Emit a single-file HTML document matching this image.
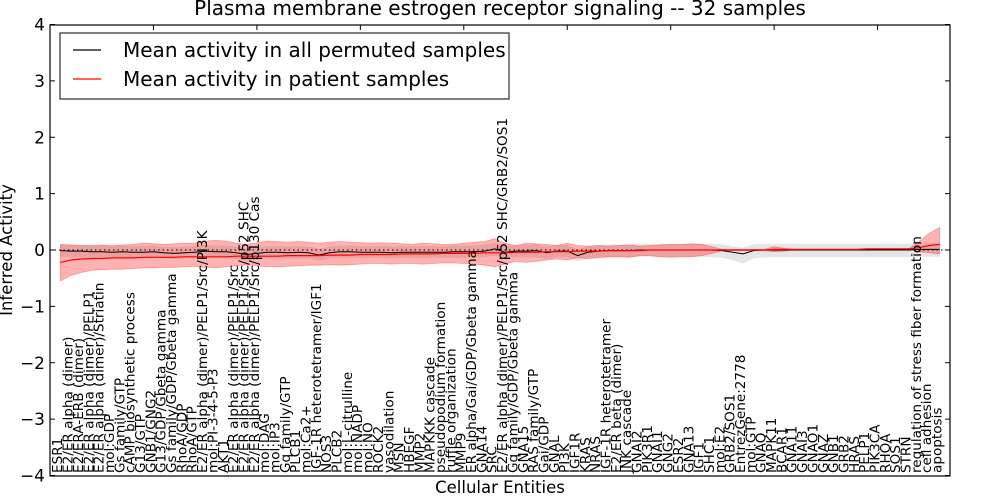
<!DOCTYPE html>
<html><head><meta charset="utf-8"><style>
body{margin:0;background:#fff;}
svg{display:block;font-family:"DejaVu Sans","Liberation Sans",sans-serif;}
</style></head><body>
<svg id="chart" width="1000" height="500" xmlns="http://www.w3.org/2000/svg">
<text x="500" y="15" font-size="20" text-anchor="middle">Plasma membrane estrogen receptor signaling -- 32 samples</text>
<text x="500" y="493" font-size="16.5" text-anchor="middle">Cellular Entities</text>
<text transform="translate(12,250) rotate(-90)" font-size="16.5" text-anchor="middle">Inferred Activity</text>
<g id="plot"></g>
</svg>
<script>
const labels=["ESR1","E2/ER alpha (dimer)","E2/ERA-ERB (dimer)","E2/ER alpha (dimer)/PELP1","E2/ER alpha (dimer)/Striatin","mol:GDP","Gs family/GTP","cAMP biosynthetic process","G13/GTP","GNB1/GNG2","G13/GDP/Gbeta gamma","Gs family/GDP/Gbeta gamma","RhoA/GDP","RhoA/GTP","E2/ER alpha (dimer)/PELP1/Src/PI3K","mol:PI-3-4-5-P3","AKT1","E2/ER alpha (dimer)/PELP1/Src","E2/ER alpha (dimer)/PELP1/Src/p52 SHC","E2/ER alpha (dimer)/PELP1/Src/p130 Cas","mol:DAG","mol:IP3","Gq family/GTP","PLCB1","mol:Ca2+","IGF-1R heterotetramer/IGF1","NOS3","PLCB2","mol:L-citrulline","mol:NADP","mol:NO","ROCK2","vasodilation","MSN","HBEGF","MMP2","MAPKKK cascade","pseudopodium formation","ruffle organization","MMP9","ER alpha/Gai/GDP/Gbeta gamma","GNA14","SRC","E2/ER alpha (dimer)/PELP1/Src/p52 SHC/GRB2/SOS1","Gq family/GDP/Gbeta gamma","GNA15","RAS family/GTP","Gai/GDP","GNAL","PI3K","IGF1R","KRAS","NRAS","IGF-1R heterotetramer","E2/ER beta (dimer)","JNK cascade","GNAI2","PIK3R1","GNAI1","GNG2","ESR2","GNA13","IGF1","SHC1","mol:E2","GRB2/SOS1","EntrezGene:2778","mol:GTP","GNAQ","MAPK11","BCAR1","GNA11","GNAI3","GNAO1","GNAZ","GNB1","GRB2","HRAS","PELP1","PIK3CA","RHOA","SOS1","STRN","regulation of stress fiber formation","cell adhesion","apoptosis"];
const yTicks=[-4,-3,-2,-1,0,1,2,3,4];
const xTopTicks=[10,20,30,40,50,60,70,80];
const blackMean=[-0.01,-0.02,-0.02,-0.03,-0.03,-0.04,-0.03,-0.04,-0.04,-0.03,-0.05,-0.06,-0.05,-0.04,-0.02,-0.03,-0.03,-0.05,-0.08,-0.06,-0.04,-0.04,-0.05,-0.04,-0.05,-0.09,-0.05,-0.03,-0.03,-0.04,-0.04,-0.04,-0.05,-0.04,-0.04,-0.04,-0.04,-0.04,-0.03,-0.03,-0.03,-0.02,0.02,-0.04,-0.02,-0.02,-0.01,-0.05,-0.02,-0.02,-0.1,-0.04,-0.02,-0.01,-0.01,-0.01,0,0,0,0,0,0,0,0,-0.01,-0.04,-0.07,-0.01,0,0,0,0,0,0,0,0,0,0,0,0,0,0,0,0.01,0.01,0.01];
const blackLow=[-0.12,-0.13,-0.13,-0.13,-0.14,-0.14,-0.14,-0.14,-0.15,-0.14,-0.15,-0.16,-0.15,-0.14,-0.13,-0.14,-0.14,-0.16,-0.19,-0.17,-0.15,-0.15,-0.15,-0.15,-0.15,-0.19,-0.15,-0.14,-0.14,-0.14,-0.14,-0.14,-0.15,-0.14,-0.14,-0.14,-0.14,-0.14,-0.14,-0.14,-0.14,-0.13,-0.1,-0.15,-0.13,-0.13,-0.13,-0.16,-0.13,-0.13,-0.2,-0.15,-0.13,-0.13,-0.13,-0.13,-0.12,-0.12,-0.12,-0.12,-0.12,-0.12,-0.12,-0.13,-0.14,-0.18,-0.24,-0.15,-0.13,-0.13,-0.13,-0.13,-0.13,-0.13,-0.13,-0.13,-0.13,-0.13,-0.13,-0.13,-0.13,-0.13,-0.13,-0.12,-0.12,-0.12];
const blackHigh=[0.1,0.09,0.09,0.08,0.08,0.07,0.08,0.07,0.07,0.08,0.06,0.05,0.06,0.07,0.09,0.08,0.08,0.06,0.03,0.05,0.07,0.07,0.06,0.07,0.06,0.02,0.06,0.08,0.08,0.07,0.07,0.07,0.06,0.07,0.07,0.07,0.07,0.07,0.08,0.08,0.08,0.09,0.13,0.07,0.09,0.09,0.1,0.06,0.09,0.09,0.01,0.07,0.09,0.1,0.1,0.1,0.11,0.11,0.11,0.11,0.11,0.11,0.11,0.11,0.1,0.07,0.04,0.1,0.11,0.11,0.11,0.11,0.11,0.11,0.11,0.11,0.11,0.11,0.11,0.11,0.11,0.11,0.11,0.12,0.12,0.12];
const redMean=[-0.22,-0.18,-0.16,-0.15,-0.15,-0.14,-0.14,-0.14,-0.13,-0.13,-0.13,-0.13,-0.12,-0.12,-0.12,-0.12,-0.12,-0.11,-0.11,-0.11,-0.11,-0.11,-0.1,-0.1,-0.1,-0.1,-0.09,-0.09,-0.09,-0.08,-0.08,-0.08,-0.08,-0.07,-0.07,-0.07,-0.07,-0.06,-0.06,-0.06,-0.06,-0.05,-0.05,-0.05,-0.04,-0.04,-0.04,-0.03,-0.03,-0.03,-0.02,-0.02,-0.02,-0.01,-0.01,-0.01,-0.01,0,0,0,0,0,0,0,0,0,0,0,0,0.01,0.01,0.01,0.01,0.01,0.01,0.01,0.01,0.01,0.02,0.02,0.02,0.02,0.02,0.04,0.08,0.1];
const redHigh=[0.1,0.09,0.08,0.08,0.09,0.08,0.09,0.1,0.12,0.11,0.1,0.11,0.12,0.12,0.16,0.17,0.16,0.12,0.1,0.13,0.16,0.15,0.14,0.15,0.14,0.12,0.14,0.15,0.14,0.13,0.12,0.13,0.12,0.11,0.1,0.12,0.11,0.1,0.1,0.12,0.14,0.15,0.2,0.12,0.08,0.12,0.11,0.1,0.08,0.12,0.08,0.07,0.08,0.07,0.08,0.09,0.07,0.08,0.09,0.1,0.1,0.11,0.1,0.06,0.01,0.01,0.01,0.01,0.01,0.06,0.03,0.01,0.01,0.01,0.01,0.01,0.01,0.01,0.02,0.02,0.02,0.02,0.02,0.15,0.3,0.4];
const redLow=[-0.55,-0.45,-0.4,-0.36,-0.35,-0.34,-0.34,-0.33,-0.32,-0.32,-0.31,-0.31,-0.3,-0.29,-0.31,-0.32,-0.3,-0.28,-0.26,-0.28,-0.3,-0.3,-0.29,-0.28,-0.27,-0.27,-0.26,-0.27,-0.26,-0.25,-0.24,-0.24,-0.25,-0.24,-0.24,-0.25,-0.24,-0.23,-0.23,-0.24,-0.25,-0.27,-0.3,-0.25,-0.2,-0.22,-0.2,-0.18,-0.16,-0.18,-0.14,-0.15,-0.14,-0.12,-0.12,-0.13,-0.1,-0.1,-0.12,-0.13,-0.12,-0.12,-0.1,-0.06,-0.01,-0.01,-0.01,-0.01,-0.01,-0.03,-0.02,0.01,0.01,0.01,0.01,0.01,0.01,0.01,0.02,0.02,0.02,0.02,0.02,-0.03,-0.05,-0.07];
const NS="http://www.w3.org/2000/svg";
const L=50,R=950,T=25,B=476;
function xs(v){return L+v*(R-L)/87;}
function ys(v){return 250-v*(B-T)/8;}
const g=document.getElementById('plot');
function mk(tag,attrs,parent){const e=document.createElementNS(NS,tag);for(const k in attrs)e.setAttribute(k,attrs[k]);(parent||g).appendChild(e);return e;}
function band(lo,hi){let d='';hi.forEach((v,i)=>{d+=(i?'L':'M')+xs(i+1).toFixed(1)+','+ys(v).toFixed(1);});for(let i=lo.length-1;i>=0;i--)d+='L'+xs(i+1).toFixed(1)+','+ys(lo[i]).toFixed(1);return d+'Z';}
function line(arr){return arr.map((v,i)=>(i?'L':'M')+xs(i+1).toFixed(1)+','+ys(v).toFixed(1)).join('');}
let e;
e=mk('path',{d:band(blackLow,blackHigh),fill:'#bfbfbf','fill-opacity':'0.4',stroke:'none'});


e=mk('path',{d:band(redLow,redHigh),fill:'#ff0000','fill-opacity':'0.3',stroke:'#ff0000','stroke-opacity':'0.3','stroke-width':'0.8'});


e=mk('line',{x1:L,x2:R,y1:ys(0),y2:ys(0),stroke:'#000','stroke-width':'1','stroke-dasharray':'1.5,3'});


e=mk('path',{d:line(blackMean),fill:'none',stroke:'#000','stroke-width':'1'});


e=mk('path',{d:line(redMean),fill:'none',stroke:'#ff0000','stroke-width':'1.2'});


labels.forEach((t,i)=>{
  const x=xs(i+0.7)+5;
  const tx=mk('text',{transform:'translate('+x.toFixed(1)+',473) rotate(-90)','font-size':'13.6'});
  tx.textContent=t;
  
  
});
yTicks.forEach(v=>{
  const y=ys(v);
  mk('line',{x1:L,x2:L+5,y1:y,y2:y,stroke:'#000'});
  mk('line',{x1:R-5,x2:R,y1:y,y2:y,stroke:'#000'});
  const tx=mk('text',{x:45,y:y+6,'font-size':'17','text-anchor':'end'});
  tx.textContent=v<0?'\u2212'+(-v):String(v);
  
  
});
xTopTicks.forEach(v=>{
  mk('line',{x1:xs(v),x2:xs(v),y1:T,y2:T+5,stroke:'#000'});
});
e=mk('rect',{x:L,y:T,width:R-L,height:B-T,fill:'none',stroke:'#000','stroke-width':'1.2'});


const lg=mk('g',{});


mk('rect',{x:60,y:33,width:449,height:66,fill:'#fff',stroke:'#000','stroke-width':'1'},lg);
mk('line',{x1:73,x2:101,y1:50,y2:50,stroke:'#000','stroke-width':'1.2'},lg);
mk('line',{x1:73,x2:101,y1:79,y2:79,stroke:'#ff0000','stroke-width':'1.2'},lg);
e=mk('text',{x:123,y:57,'font-size':'20'},lg);e.textContent='Mean activity in all permuted samples';


e=mk('text',{x:123,y:86,'font-size':'20'},lg);e.textContent='Mean activity in patient samples';


</script>
</body></html>
